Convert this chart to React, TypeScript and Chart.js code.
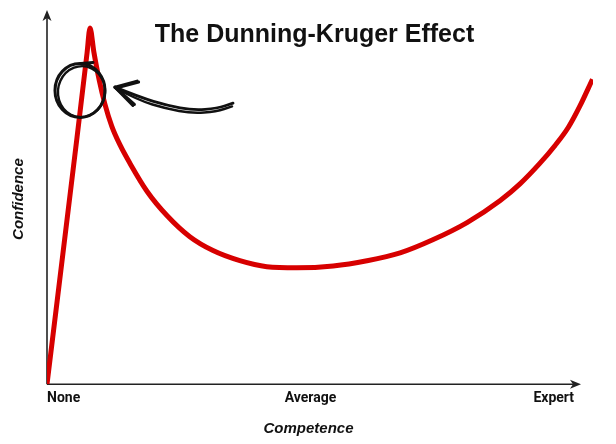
import React, { useEffect, useRef } from "react";
import { Chart, registerables } from "chart.js";

Chart.register(...registerables);

// ---- data ----
const competence = [0, 5.7, 7.6, 8.16, 8.9, 9.9, 11.0, 12.3, 13.9, 15.75, 19.0, 22.8, 27.1, 31.5, 36.6, 41.7, 47.4, 54.3, 60.7, 67.0, 73.2, 79.7, 86.0, 89.8, 93.5, 96.4, 98.9, 101.1, 103.5];
const confidence = [0, 66.0, 88.5, 95.2, 88.7, 81.3, 74.8, 68.9, 63.8, 59.0, 51.5, 45.0, 39.4, 35.7, 33.0, 31.4, 31.1, 31.6, 33.0, 35.1, 38.6, 43.2, 49.1, 53.6, 59.0, 63.8, 68.6, 74.3, 81.5];

const tickValues = [0, 50, 100];
const tickLabels = ["None", "Average", "Expert"];

const titleText = "The Dunning-Kruger Effect";
const xTitle = "Competence";
const yTitle = "Confidence";

// annotation anchors (data units)
const circleAt = [6.26, 78.5];
const arrowShaftX = [12.9, 17.6, 22.8, 27.7, 32.3, 35.3];
const arrowShaftY = [79.4, 76.7, 74.5, 73.2, 73.7, 75.1];
const arrowBarbX = [17.1, 16.3];
const arrowBarbY = [81.0, 74.5];

const decorPlugin = {
  id: "decor",
  beforeDatasetsDraw(chart: any) {
    const { ctx, chartArea: a } = chart;
    ctx.save();
    ctx.strokeStyle = "#222";
    ctx.fillStyle = "#222";
    ctx.lineWidth = 1.6;
    // y axis with arrow
    ctx.beginPath();
    ctx.moveTo(a.left, a.bottom);
    ctx.lineTo(a.left, a.top + 6);
    ctx.stroke();
    ctx.beginPath();
    ctx.moveTo(a.left, a.top);
    ctx.lineTo(a.left - 4.5, a.top + 11);
    ctx.lineTo(a.left, a.top + 8);
    ctx.lineTo(a.left + 4.5, a.top + 11);
    ctx.closePath();
    ctx.fill();
    // x axis with arrow
    const tipX = a.right - 12;
    ctx.beginPath();
    ctx.moveTo(a.left, a.bottom);
    ctx.lineTo(tipX - 6, a.bottom);
    ctx.stroke();
    ctx.beginPath();
    ctx.moveTo(tipX, a.bottom);
    ctx.lineTo(tipX - 11, a.bottom - 4.5);
    ctx.lineTo(tipX - 8, a.bottom);
    ctx.lineTo(tipX - 11, a.bottom + 4.5);
    ctx.closePath();
    ctx.fill();
    ctx.restore();
  },
  afterDraw(chart: any) {
    const { ctx, chartArea: a } = chart;
    const xs = chart.scales.x;
    const ys = chart.scales.y;
    const X = (v: number) => xs.getPixelForValue(v);
    const Y = (v: number) => ys.getPixelForValue(v);
    ctx.save();
    ctx.fillStyle = "#111";
    // main title
    ctx.font = 'bold 25px "Liberation Sans"';
    ctx.textAlign = "center";
    ctx.textBaseline = "alphabetic";
    ctx.fillText(titleText, X(50) + 4, a.top + 32);
    // x title
    ctx.font = 'italic bold 15px "Liberation Sans"';
    ctx.fillText(xTitle, X(50) - 2, a.bottom + 49);
    // y title
    ctx.save();
    ctx.translate(a.left - 24, (a.top + a.bottom) / 2 + 2);
    ctx.rotate(-Math.PI / 2);
    ctx.fillText(yTitle, 0, 0);
    ctx.restore();

    // hand-drawn circle
    ctx.strokeStyle = "#111";
    ctx.lineCap = "round";
    ctx.lineJoin = "round";
    const cx = X(circleAt[0]);
    const cy = Y(circleAt[1]);
    ctx.lineWidth = 3;
    ctx.beginPath();
    ctx.moveTo(cx + 13, cy - 28);
    ctx.lineTo(cx + 1, cy - 27);
    ctx.ellipse(cx, cy, 25, 27, 0, -Math.PI / 2, -Math.PI / 2 - 2 * Math.PI + 0.15, true);
    ctx.stroke();
    ctx.lineWidth = 2.4;
    ctx.beginPath();
    ctx.ellipse(cx + 1.5, cy + 1.2, 23.5, 25.5, 0.15, -Math.PI / 2 + 0.3, 1.6 * Math.PI, false);
    ctx.stroke();

    // hand-drawn arrow (double strokes)
    const pts = arrowShaftX.map((v, i) => [X(v), Y(arrowShaftY[i])]);
    const drawShaft = (dx: number, dy: number) => {
      ctx.beginPath();
      ctx.moveTo(pts[0][0] + dx * 0.2, pts[0][1] + dy * 0.2);
      for (let i = 1; i < pts.length - 1; i++) {
        const mx = (pts[i][0] + pts[i + 1][0]) / 2 + dx;
        const my = (pts[i][1] + pts[i + 1][1]) / 2 + dy;
        ctx.quadraticCurveTo(pts[i][0] + dx, pts[i][1] + dy, mx, my);
      }
      const last = pts[pts.length - 1];
      ctx.lineTo(last[0] + dx, last[1] + dy);
      ctx.stroke();
    };
    ctx.lineWidth = 2.8;
    drawShaft(0, 0);
    ctx.lineWidth = 2.4;
    drawShaft(-1, 3.2);
    const tip = pts[0];
    ctx.lineWidth = 3;
    for (let k = 0; k < 2; k++) {
      ctx.beginPath();
      ctx.moveTo(tip[0] + k, tip[1] + k);
      ctx.lineTo(X(arrowBarbX[0]) + k * 1.5, Y(arrowBarbY[0]) + k);
      ctx.stroke();
      ctx.beginPath();
      ctx.moveTo(tip[0] + k, tip[1] + k);
      ctx.lineTo(X(arrowBarbX[1]) + k * 1.5, Y(arrowBarbY[1]) - k);
      ctx.stroke();
    }
    ctx.restore();
  },
};

export default function App() {
  const ref = useRef<HTMLCanvasElement | null>(null);
  useEffect(() => {
    document.body.style.margin = "0";
    const canvas = ref.current;
    if (!canvas) return;
    const chart = new Chart(canvas, {
      type: "line",
      data: {
        datasets: [
          {
            data: competence.map((x, i) => ({ x, y: confidence[i] })),
            borderColor: "#d70000",
            borderWidth: 5,
            pointRadius: 0,
            fill: false,
            cubicInterpolationMode: "monotone",
            borderJoinStyle: "round",
          },
        ],
      },
      options: {
        animation: false,
        responsive: false,
        layout: { padding: { left: 47, right: 23, top: 10, bottom: 31 } },
        plugins: {
          legend: { display: false },
          tooltip: { enabled: false },
          title: { display: false },
        },
        scales: {
          x: {
            type: "linear",
            min: 0,
            max: 103.6,
            grid: { display: false, drawTicks: false },
            border: { display: false },
            afterBuildTicks: (s: any) => {
              s.ticks = tickValues.map((v) => ({ value: v }));
            },
            ticks: {
              align: "inner",
              padding: 6,
              color: "#111",
              autoSkip: false,
              maxRotation: 0,
              font: { family: "Roboto", weight: "bold", size: 14 },
              callback: (_v: any, i: number) => tickLabels[i],
            },
          },
          y: { display: false, min: 0, max: 100 },
        },
      } as any,
      plugins: [decorPlugin],
    });
    return () => chart.destroy();
  }, []);
  return (
    <div style={{ width: 616, height: 444, background: "#fff" }}>
      <canvas ref={ref} width={616} height={444} />
    </div>
  );
}
